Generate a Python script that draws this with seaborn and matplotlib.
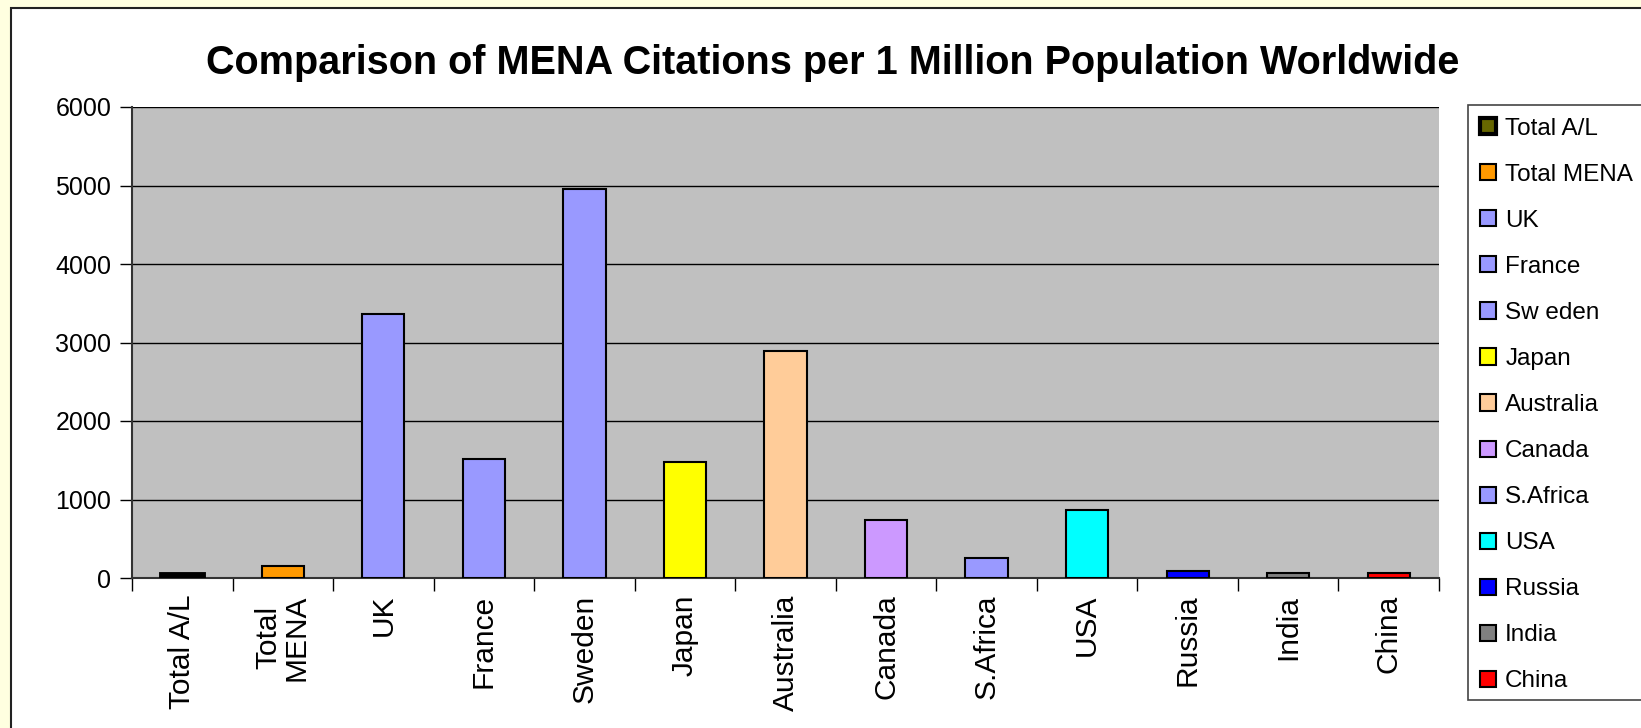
import numpy as np
import pandas as pd
import seaborn as sb
import matplotlib.pyplot as plt
from matplotlib.patches import Rectangle

categories = ['Total A/L', 'Total MENA', 'UK', 'France', 'Sweden', 'Japan', 'Australia',
              'Canada', 'S.Africa', 'USA', 'Russia', 'India', 'China']
tick_labels = ['Total A/L', 'Total\nMENA', 'UK', 'France', 'Sweden', 'Japan', 'Australia',
               'Canada', 'S.Africa', 'USA', 'Russia', 'India', 'China']
legend_labels = ['Total A/L', 'Total MENA', 'UK', 'France', 'Sw eden', 'Japan', 'Australia',
                 'Canada', 'S.Africa', 'USA', 'Russia', 'India', 'China']
citations = [50, 157, 3360, 1510, 4960, 1480, 2895, 745, 250, 865, 95, 68, 68]
colors = ['#666600', '#FF9900', '#9999FF', '#9999FF', '#9999FF', '#FFFF00', '#FFCC99',
          '#CC99FF', '#9999FF', '#00FFFF', '#0000FF', '#808080', '#FF0000']

df = pd.DataFrame({'Country': categories, 'Citations': citations})
palette = dict(zip(categories, colors))

sb.set_theme(style="white")
plt.rcParams['font.family'] = ['Liberation Sans', 'DejaVu Sans']
plt.rcParams['text.color'] = 'black'
plt.rcParams['xtick.color'] = 'black'
plt.rcParams['ytick.color'] = 'black'

W, H = 1641, 728
fig = plt.figure(figsize=(W / 100, H / 100), dpi=100, facecolor='#FFFFE0')

# white chart area with black border (runs off right/bottom edges)
fig.patches.append(Rectangle((11 / W, -0.05), 1.1, 1 - 8 / H + 0.05, transform=fig.transFigure,
                             facecolor='white', edgecolor='#222222', linewidth=1.5, zorder=-5))

ax = fig.add_axes([132 / W, 1 - 578 / H, (1439 - 132) / W, (578 - 107) / H])
ax.set_facecolor('#C0C0C0')

sb.barplot(x='Country', y='Citations', data=df, ax=ax, hue='Country', palette=palette,
           order=categories, hue_order=categories, dodge=False, width=0.42,
           edgecolor='black', linewidth=1.5, saturation=1, legend=False, zorder=3)

# the first bar is drawn with a heavy outline
ax.patches[0].set_linewidth(3.5)

ax.set_ylim(0, 6000)
ax.set_xlim(-0.5, len(categories) - 0.5)
ax.set_yticks(range(0, 6001, 1000))
ax.set_xticks(range(len(categories)))
ax.set_xticklabels(tick_labels, rotation=90, fontsize=21.5, va='top', linespacing=1.0)
ax.set_xticks(np.arange(-0.5, len(categories), 1), minor=True)
ax.tick_params(axis='x', which='major', length=0, pad=12)
ax.tick_params(axis='x', which='minor', length=9, width=1, color='black', direction='out', bottom=True)
ax.tick_params(axis='y', labelsize=18, length=9, width=1, color='black', direction='out', left=True, pad=6)
ax.set_xlabel(None)
ax.set_ylabel(None)
ax.yaxis.grid(True, color='black', linewidth=1)
ax.set_axisbelow(True)
for side in ['left', 'bottom']:
    ax.spines[side].set_color('#333333')
    ax.spines[side].set_linewidth(1.5)
ax.spines['top'].set_visible(False)
ax.spines['right'].set_visible(False)

fig.text(833 / W, 1 - 63 / H, 'Comparison of MENA Citations per 1 Million Population Worldwide',
         ha='center', va='center', fontsize=28.5, fontweight='bold')

# legend box
fig.patches.append(Rectangle((1468 / W, 1 - 700 / H), 0.2, (700 - 105) / H, transform=fig.transFigure,
                             facecolor='white', edgecolor='#444444', linewidth=1.2, zorder=-1))
handles = [Rectangle((0, 0), 1, 1, facecolor=c, edgecolor='black',
                     linewidth=3 if i == 0 else 1.5) for i, c in enumerate(colors)]
fig.legend(handles, legend_labels, loc='upper left', bbox_to_anchor=(1470 / W, 1 - 108 / H),
           frameon=False, fontsize=17.5, handlelength=0.65, handleheight=0.65, handletextpad=0.4,
           labelspacing=0.99, borderaxespad=0)

fig.savefig('out.png', dpi=100, facecolor=fig.get_facecolor())
